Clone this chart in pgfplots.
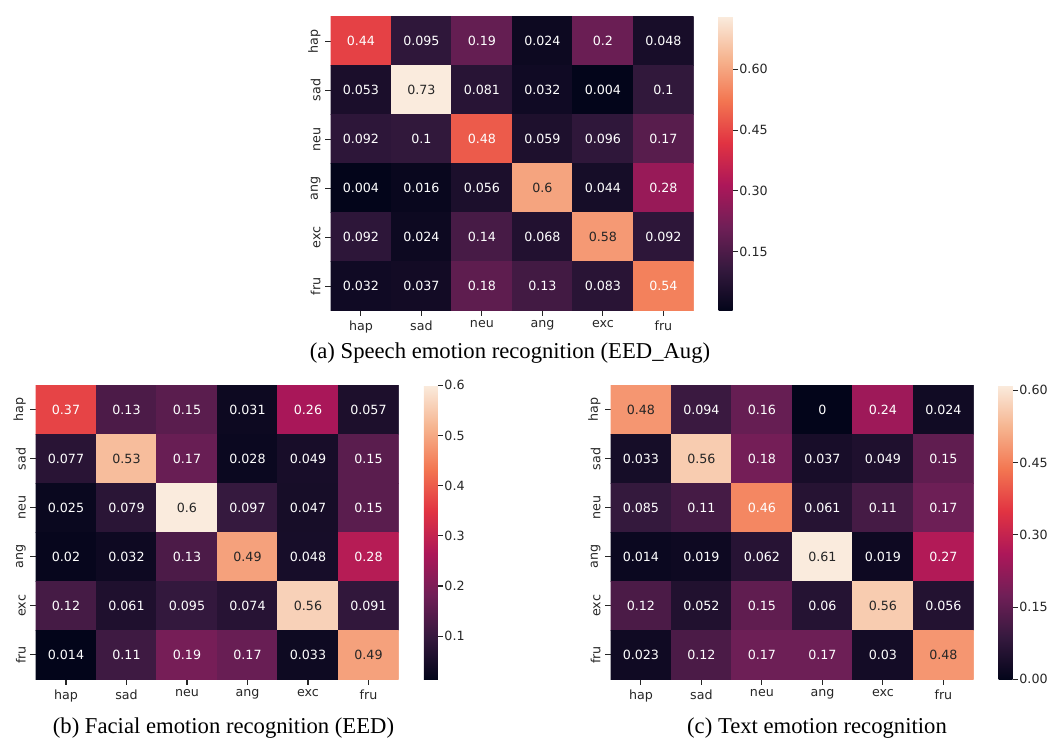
\documentclass[border=0pt]{standalone}
\usepackage{pgfplots}
\pgfplotsset{compat=1.18}
\usepackage{pgfplotstable}
\usepackage{fontspec}
\setmainfont{Liberation Serif}
\newfontfamily\dv{DejaVu Sans}
\newcommand\cellfont{\dv\fontsize{9.5}{11}\selectfont}
\newcommand\capfont{\fontsize{17}{20}\selectfont}
\definecolor{tickgray}{RGB}{38,38,38}

% columns: x y value, w = 1 for white text, 0 for dark text
\pgfplotstableread{
x y c w
0 5 0.44 1
1 5 0.095 1
2 5 0.19 1
3 5 0.024 1
4 5 0.2 1
5 5 0.048 1
0 4 0.053 1
1 4 0.73 0
2 4 0.081 1
3 4 0.032 1
4 4 0.004 1
5 4 0.1 1
0 3 0.092 1
1 3 0.1 1
2 3 0.48 1
3 3 0.059 1
4 3 0.096 1
5 3 0.17 1
0 2 0.004 1
1 2 0.016 1
2 2 0.056 1
3 2 0.6 0
4 2 0.044 1
5 2 0.28 1
0 1 0.092 1
1 1 0.024 1
2 1 0.14 1
3 1 0.068 1
4 1 0.58 0
5 1 0.092 1
0 0 0.032 1
1 0 0.037 1
2 0 0.18 1
3 0 0.13 1
4 0 0.083 1
5 0 0.54 1
}\tabA

\pgfplotstableread{
x y c w
0 5 0.37 1
1 5 0.13 1
2 5 0.15 1
3 5 0.031 1
4 5 0.26 1
5 5 0.057 1
0 4 0.077 1
1 4 0.53 0
2 4 0.17 1
3 4 0.028 1
4 4 0.049 1
5 4 0.15 1
0 3 0.025 1
1 3 0.079 1
2 3 0.6 0
3 3 0.097 1
4 3 0.047 1
5 3 0.15 1
0 2 0.02 1
1 2 0.032 1
2 2 0.13 1
3 2 0.49 0
4 2 0.048 1
5 2 0.28 1
0 1 0.12 1
1 1 0.061 1
2 1 0.095 1
3 1 0.074 1
4 1 0.56 0
5 1 0.091 1
0 0 0.014 1
1 0 0.11 1
2 0 0.19 1
3 0 0.17 1
4 0 0.033 1
5 0 0.49 0
}\tabB

\pgfplotstableread{
x y c w
0 5 0.48 0
1 5 0.094 1
2 5 0.16 1
3 5 0 1
4 5 0.24 1
5 5 0.024 1
0 4 0.033 1
1 4 0.56 0
2 4 0.18 1
3 4 0.037 1
4 4 0.049 1
5 4 0.15 1
0 3 0.085 1
1 3 0.11 1
2 3 0.46 1
3 3 0.061 1
4 3 0.11 1
5 3 0.17 1
0 2 0.014 1
1 2 0.019 1
2 2 0.062 1
3 2 0.61 0
4 2 0.019 1
5 2 0.27 1
0 1 0.12 1
1 1 0.052 1
2 1 0.15 1
3 1 0.06 1
4 1 0.56 0
5 1 0.056 1
0 0 0.023 1
1 0 0.12 1
2 0 0.17 1
3 0 0.17 1
4 0 0.03 1
5 0 0.48 0
}\tabC

\pgfplotsset{
  colormap={rocket}{rgb255(0cm)=(3,5,26) rgb255(1cm)=(53,25,62) rgb255(2cm)=(112,31,87) rgb255(3cm)=(173,23,89) rgb255(4cm)=(225,51,66) rgb255(5cm)=(243,118,81) rgb255(6cm)=(246,180,143) rgb255(7cm)=(250,235,221)},
  heat/.style={
    scale only axis, width=272.25pt, height=220.5pt,
    anchor=south west,
    xmin=-0.5, xmax=5.5, ymin=-0.5, ymax=5.5,
    xtick={0,...,5}, ytick={0,...,5},
    xticklabels={hap,sad,neu,ang,exc,fru},
    yticklabels={fru,exc,ang,neu,sad,hap},
    tick align=outside, tick pos=left, major tick length=4pt,
    tick style={color=tickgray, line width=0.8pt},
    axis line style={draw=none},
    ticklabel style={font=\cellfont, text=tickgray},
    yticklabel style={rotate=90, anchor=south},
    colormap name=rocket,
    colorbar,
    colorbar style={
      xshift=10.25pt,
      width=10.5pt,
      axis line style={draw=none},
      tick align=outside, ytick pos=right, yticklabel pos=right,
      major tick length=4pt,
      tick style={color=tickgray, line width=0.8pt},
      yticklabel style={font=\cellfont, text=tickgray, xshift=-2.5pt,
        /pgf/number format/assume math mode=true},
    },
  },
  cellw/.style={scatter, only marks, mark=text, text mark={}, point meta=explicit symbolic,
    scatter/@pre marker code/.code={\node[font=\cellfont, text=white] at (0,0) {\pgfplotspointmeta};},
    scatter/@post marker code/.code={}},
  celld/.style={scatter, only marks, mark=text, text mark={}, point meta=explicit symbolic,
    scatter/@pre marker code/.code={\node[font=\cellfont, text=tickgray] at (0,0) {\pgfplotspointmeta};},
    scatter/@post marker code/.code={}},
}

\begin{document}
\begin{tikzpicture}
\useasboundingbox (0,0) rectangle (786.75pt,556.5pt);

\begin{axis}[heat, at={(248pt,323.5pt)},
  colorbar style={ytick={0.15,0.30,0.45,0.60},
    yticklabel style={/pgf/number format/fixed, /pgf/number format/fixed zerofill, /pgf/number format/precision=2}}]
\addplot[matrix plot*, mesh/cols=6, point meta=explicit] table[x=x,y=y,meta=c]{\tabA};
\addplot[cellw, restrict expr to domain={\thisrow{w}}{0.5:1.5}] table[x expr=\thisrow{x}-0.5,y expr=\thisrow{y}-0.5,meta=c]{\tabA};
\addplot[celld, restrict expr to domain={\thisrow{w}}{-0.5:0.5}] table[x expr=\thisrow{x}-0.5,y expr=\thisrow{y}-0.5,meta=c]{\tabA};
\end{axis}

\begin{axis}[heat, at={(26.8pt,47pt)},
  colorbar style={ytick={0.1,0.2,0.3,0.4,0.5,0.6},
    yticklabel style={/pgf/number format/fixed, /pgf/number format/fixed zerofill, /pgf/number format/precision=1}}]
\addplot[matrix plot*, mesh/cols=6, point meta=explicit] table[x=x,y=y,meta=c]{\tabB};
\addplot[cellw, restrict expr to domain={\thisrow{w}}{0.5:1.5}] table[x expr=\thisrow{x}-0.5,y expr=\thisrow{y}-0.5,meta=c]{\tabB};
\addplot[celld, restrict expr to domain={\thisrow{w}}{-0.5:0.5}] table[x expr=\thisrow{x}-0.5,y expr=\thisrow{y}-0.5,meta=c]{\tabB};
\end{axis}

\begin{axis}[heat, at={(458pt,47pt)},
  colorbar style={ytick={0,0.15,0.30,0.45,0.60},
    yticklabel style={/pgf/number format/fixed, /pgf/number format/fixed zerofill, /pgf/number format/precision=2}}]
\addplot[matrix plot*, mesh/cols=6, point meta=explicit] table[x=x,y=y,meta=c]{\tabC};
\addplot[cellw, restrict expr to domain={\thisrow{w}}{0.5:1.5}] table[x expr=\thisrow{x}-0.5,y expr=\thisrow{y}-0.5,meta=c]{\tabC};
\addplot[celld, restrict expr to domain={\thisrow{w}}{-0.5:0.5}] table[x expr=\thisrow{x}-0.5,y expr=\thisrow{y}-0.5,meta=c]{\tabC};
\end{axis}

\node[font=\capfont] at (382.5pt,291.75pt) {(a) Speech emotion recognition (EED\_Aug)};
\node[font=\capfont] at (167.6pt,10.5pt) {(b) Facial emotion recognition (EED)};
\node[font=\capfont] at (612.75pt,10.5pt) {(c) Text emotion recognition};
\end{tikzpicture}
\end{document}
